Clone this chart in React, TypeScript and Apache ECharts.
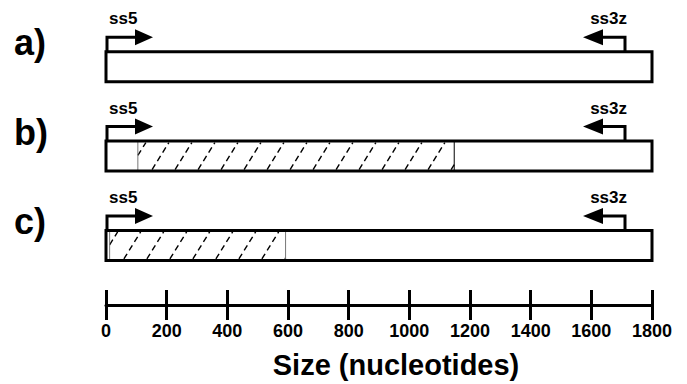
import React, { useEffect, useRef } from 'react';
import * as echarts from 'echarts';

// ---- data ----
const rowLabels = ['a)', 'b)', 'c)'];
const constructStart = [0, 0, 0];
const constructEnd = [1800, 1800, 1800];
const hatchStart: (number | null)[] = [null, 105, 12];
const hatchEnd: (number | null)[] = [null, 1148, 592];
const forwardPrimerName = 'ss5';
const forwardPrimerPos = 0;
const reversePrimerName = 'ss3z';
const reversePrimerPos = 1711;
const axisMin = 0;
const axisMax = 1800;
const axisStep = 200;
const axisTitle = 'Size (nucleotides)';

const FONT = '"Liberation Sans", Arial, sans-serif';

export default function App() {
  const ref = useRef<HTMLDivElement>(null);
  useEffect(() => {
    if (!ref.current) return;
    const chart = echarts.init(ref.current, undefined, { renderer: 'svg' });

    const renderItem = (params: any, api: any) => {
      const i = params.dataIndex;
      const [xl, yc] = api.coord([constructStart[i], i]);
      const [xr] = api.coord([constructEnd[i], i]);
      const halfH = 15;
      const top = yc - halfH;
      const bottom = yc + halfH;
      const children: any[] = [];
      children.push({
        type: 'rect',
        shape: { x: xl, y: top, width: xr - xl, height: bottom - top },
        style: { fill: '#fff', stroke: null },
      });
      const hs = hatchStart[i];
      const he = hatchEnd[i];
      if (hs !== null && he !== null) {
        const hx1 = api.coord([hs, i])[0];
        const hx2 = api.coord([he, i])[0];
        const yT = top + 1.5;
        const yB = bottom - 1.5;
        const H = yB - yT;
        const s = 0.62;
        const spacing = 23;
        for (let xb = hx1 - H * s + 8; xb < hx2; xb += spacing) {
          const tMin = Math.max(0, (hx1 - xb) / (H * s));
          const tMax = Math.min(1, (hx2 - xb) / (H * s));
          if (tMin >= tMax) continue;
          children.push({
            type: 'line',
            shape: {
              x1: xb + tMin * H * s,
              y1: yB - tMin * H,
              x2: xb + tMax * H * s,
              y2: yB - tMax * H,
            },
            style: { stroke: '#000', lineWidth: 1.4, lineDash: [6, 4] },
          });
        }
        children.push({
          type: 'line',
          shape: { x1: hx1, y1: top, x2: hx1, y2: bottom },
          style: { stroke: '#777', lineWidth: 1 },
        });
        children.push({
          type: 'line',
          shape: { x1: hx2, y1: top, x2: hx2, y2: bottom },
          style: { stroke: i === 1 ? '#000' : '#777', lineWidth: 1 },
        });
      }
      children.push({
        type: 'rect',
        shape: { x: xl, y: top, width: xr - xl, height: bottom - top },
        style: { fill: null, stroke: '#000', lineWidth: 3 },
      });
      // forward primer arrow
      const ay = top - 14.5;
      const fx = api.coord([forwardPrimerPos, i])[0] + 1;
      children.push({
        type: 'polyline',
        shape: { points: [[fx, top], [fx, ay], [fx + 29, ay]] },
        style: { stroke: '#000', lineWidth: 3, fill: null },
      });
      children.push({
        type: 'polygon',
        shape: { points: [[fx + 28, ay - 8], [fx + 46, ay], [fx + 28, ay + 8]] },
        style: { fill: '#000' },
      });
      children.push({
        type: 'text',
        style: {
          text: forwardPrimerName, x: fx + 2, y: top - 33,
          font: `bold 17px ${FONT}`, fill: '#000', align: 'left', verticalAlign: 'middle',
        },
      });
      // reverse primer arrow
      const rx = api.coord([reversePrimerPos, i])[0];
      children.push({
        type: 'polyline',
        shape: { points: [[rx, top], [rx, ay], [rx - 23, ay]] },
        style: { stroke: '#000', lineWidth: 3, fill: null },
      });
      children.push({
        type: 'polygon',
        shape: { points: [[rx - 22, ay - 8], [rx - 42, ay], [rx - 22, ay + 8]] },
        style: { fill: '#000' },
      });
      children.push({
        type: 'text',
        style: {
          text: reversePrimerName, x: rx + 2, y: top - 33,
          font: `bold 17px ${FONT}`, fill: '#000', align: 'right', verticalAlign: 'middle',
        },
      });
      // row label
      children.push({
        type: 'text',
        style: {
          text: rowLabels[i], x: 14, y: top - 9,
          font: `bold 36px ${FONT}`, fill: '#000', align: 'left', verticalAlign: 'middle',
        },
      });
      return { type: 'group', children };
    };

    chart.setOption({
      animation: false,
      backgroundColor: '#fff',
      grid: { left: 106, right: 35, top: 22, bottom: 77 },
      xAxis: [
        {
          type: 'value',
          min: axisMin,
          max: axisMax,
          interval: axisStep,
          position: 'bottom',
          axisLine: { show: true, onZero: false, lineStyle: { color: '#000', width: 3 } },
          axisTick: { show: true, inside: false, length: 15, lineStyle: { color: '#000', width: 3 } },
          axisLabel: {
            show: true, margin: 17, color: '#000', fontSize: 18, fontWeight: 'bold', fontFamily: FONT,
            formatter: (v: number) => String(v),
          },
          splitLine: { show: false },
          name: axisTitle,
          nameLocation: 'middle',
          nameGap: 45,
          nameTextStyle: {
            color: '#000', fontSize: 29, fontWeight: 'bold', fontFamily: FONT, padding: [0, 0, 0, 34],
          },
        },
        {
          type: 'value',
          min: axisMin,
          max: axisMax,
          interval: axisStep,
          position: 'bottom',
          axisLine: { show: false, onZero: false },
          axisTick: { show: true, inside: true, length: 15, lineStyle: { color: '#000', width: 3 } },
          axisLabel: { show: false },
          splitLine: { show: false },
        },
      ],
      yAxis: { type: 'value', show: false, min: -0.5, max: 8 / 3, inverse: true, splitLine: { show: false } },
      series: [
        {
          type: 'custom',
          xAxisIndex: 0,
          yAxisIndex: 0,
          clip: false,
          renderItem,
          encode: { x: 0, y: 1 },
          data: rowLabels.map((_, i) => [constructStart[i], i]),
        },
      ],
    });
    return () => chart.dispose();
  }, []);
  return (
    <div
      ref={ref}
      style={{ position: 'fixed', left: 0, top: 0, width: 687, height: 384, background: '#fff' }}
    />
  );
}
